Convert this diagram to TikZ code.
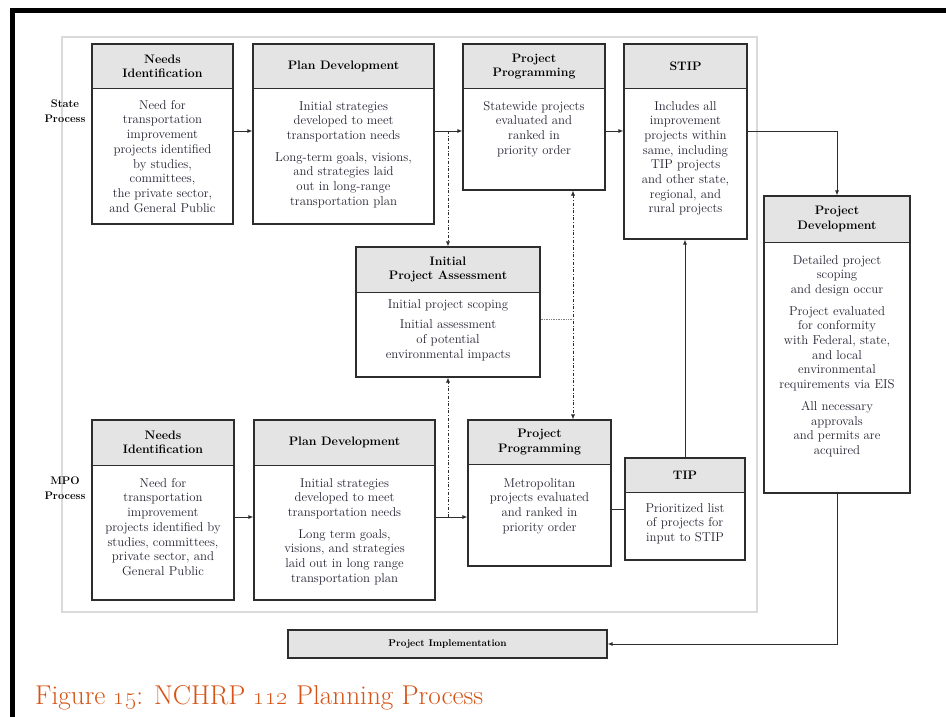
\documentclass[tikz,border=0pt]{standalone}
\usetikzlibrary{arrows.meta,fit,calc}
\definecolor{hdrgray}{RGB}{228,228,228}
\definecolor{linecol}{RGB}{45,45,45}
\definecolor{panelgray}{RGB}{218,218,218}
\definecolor{titlecol}{RGB}{214,84,22}
\definecolor{txtcol}{RGB}{35,35,50}
\newcommand{\procbox}[9]{%
  \fill[hdrgray] (#2,#3) rectangle (#4,#6);
  \draw[linecol, line width=1pt] (#2,#6) -- (#4,#6);
  \node[frame, fit={(#2,#3)(#4,#5)}] (#1) {};
  \node[hdrtext] (#1h) at ({(#2+#4)/2},{(#3+#6)/2}) {#7};
  \node[bodytext, anchor=north] (#1t) at ({(#2+#4)/2},#8) {#9};
}
\begin{document}
\begin{tikzpicture}[x=1pt,y=-1pt,
  frame/.style={draw=linecol,line width=1.2pt,inner sep=0pt},
  hdrtext/.style={font=\fontsize{12.3}{14.5}\selectfont\bfseries,align=center,inner sep=0pt,text=black},
  bodytext/.style={font=\fontsize{12.8}{14.7}\selectfont,align=center,inner sep=0pt,text=txtcol},
  lbl/.style={font=\fontsize{11}{14.5}\selectfont\bfseries,align=center,inner sep=0pt},
  tipa/.style={-{Latex[length=5pt,width=4pt]}},
  arr/.style={tipa,line width=0.9pt,draw=linecol},
  conn/.style={line width=0.9pt,draw=linecol},
  dda/.style={dash dot,line width=0.7pt,draw=linecol},
]
\useasboundingbox (0,0) rectangle (946,717);
\fill[white] (0,0) rectangle (946,717);
% black border
\fill[black] (10,8) rectangle (946,13);
\fill[black] (10,8) rectangle (15,717);
% panel
\draw[panelgray,line width=1.5pt] (62,37) rectangle (757,612);

% process labels
\node[lbl] (st) at (65,111) {State\\Process};
\node[lbl] (mpo) at (65,488) {MPO\\Process};

% state row
\procbox{sn}{92}{44}{233}{224}{89}{Needs\\Identification}{100}{Need for\\transportation\\improvement\\projects identified\\by studies,\\committees,\\the private sector,\\and General Public}
\procbox{sp}{253}{44}{434}{224}{89}{Plan Development}{101}{Initial strategies\\developed to meet\\transportation needs\\[7pt]Long-term goals, visions,\\and strategies laid\\out in long-range\\transportation plan}
\procbox{spp}{463}{44}{605}{190}{89}{Project\\Programming}{101}{Statewide projects\\evaluated and\\ranked in\\priority order}
\procbox{stip}{624}{44}{747}{239}{89}{STIP}{101}{Includes all\\improvement\\projects within\\same, including\\TIP projects\\and other state,\\regional, and\\rural projects}

% initial assessment
\procbox{ipa}{356}{247}{540}{377}{292}{Initial\\Project Assessment}{299}{Initial project scoping\\[6pt]Initial assessment\\of potential\\environmental impacts}

% MPO row
\procbox{mn}{92}{420}{234}{600}{465}{Needs\\Identification}{478}{Need for\\transportation\\improvement\\projects identified by\\studies, committees,\\private sector, and\\General Public}
\procbox{mp}{254}{420}{435}{600}{465}{Plan Development}{478}{Initial strategies\\developed to meet\\transportation needs\\[7pt]Long term goals,\\visions, and strategies\\laid out in long range\\transportation plan}
\procbox{mpp}{468}{420}{611}{566}{464}{Project\\Programming}{478}{Metropolitan\\projects evaluated\\and ranked in\\priority order}
\procbox{tip}{625}{458}{745}{560}{492}{TIP}{503}{Prioritized list\\of projects for\\input to STIP}

% project development
\procbox{pd}{764}{196}{910}{493}{242}{Project\\Development}{255}{Detailed project\\scoping\\and design occur\\[7pt]Project evaluated\\for conformity\\with Federal, state,\\and local\\environmental\\requirements via EIS\\[7pt]All necessary\\approvals\\and permits are\\acquired}

% implementation
\node[draw=linecol,line width=1.2pt,fill=hdrgray,minimum width=319pt,minimum height=28pt,inner sep=0pt,
  font=\fontsize{9.8}{12}\selectfont\bfseries] (pi) at (447.5,644) {Project Implementation};

% helper coordinates
\coordinate (r1) at (0,131);
\coordinate (r2) at (0,517);
\coordinate (r3) at (0,319);
\coordinate (vx) at (573,0);

% connectors
\draw[arr] (sn.east |- r1) -- (sp.west |- r1);
\draw[arr] (sp.east |- r1) -- (spp.west |- r1);
\draw[arr] (spp.east |- r1) -- (stip.west |- r1);
\draw[arr] (stip.east |- r1) -| (pd.north);
\draw[arr] (pd.south) |- (pi.east);
\draw[arr] (mn.east |- r2) -- (mp.west |- r2);
\draw[arr] (mp.east |- r2) -- (mpp.west |- r2);
\draw[conn] (mpp.east |- tip.west) -- (tip.west);
\draw[arr] (tip.north) -- (tip.north |- stip.south);
\draw[dda,tipa] (ipa.north |- r1) -- (ipa.north);
\draw[dda,tipa] (ipa.south |- r2) -- (ipa.south);
\draw[dda,{Latex[length=5pt,width=4pt]}-{Latex[length=5pt,width=4pt]}] (spp.south -| vx) -- (mpp.north -| vx);
\draw[densely dotted,gray,line width=0.7pt] (ipa.east |- r3) -- (vx |- r3);

% title
\node[anchor=base west,text=titlecol,inner sep=0pt,font=\fontsize{27.2}{30}\selectfont] (title) at (35,704) {Figure \oldstylenums{15}: NCHRP \oldstylenums{112} Planning Process};
\end{tikzpicture}
\end{document}
